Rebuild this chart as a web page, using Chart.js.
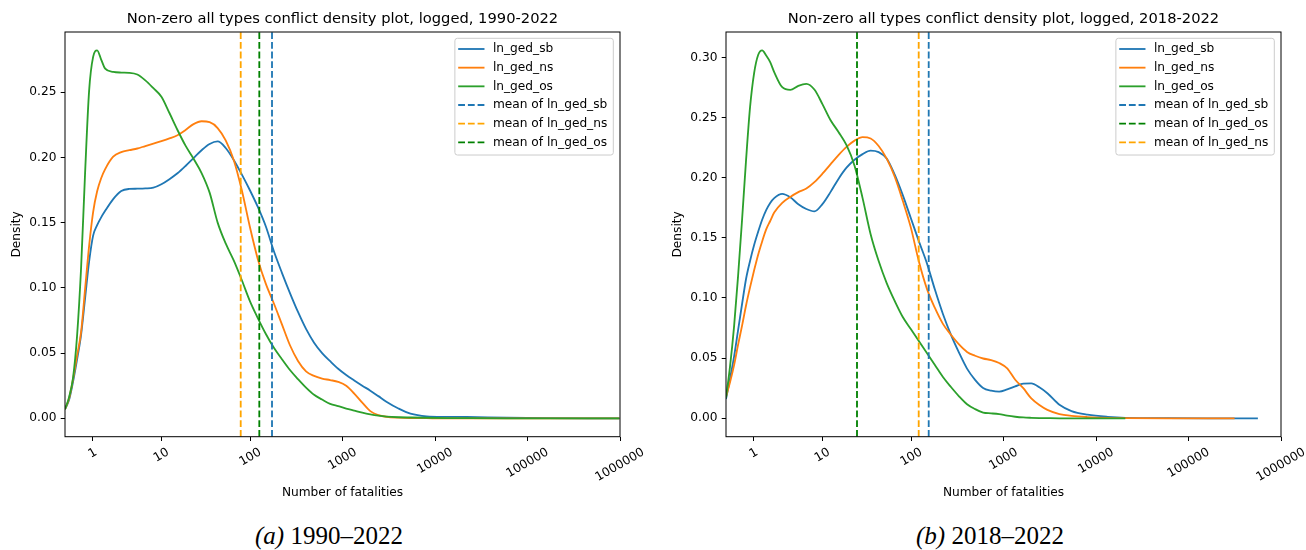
<!DOCTYPE html>
<html>
<head>
<meta charset="utf-8">
<script src="https://cdn.jsdelivr.net/npm/chart.js@4.4.1/dist/chart.umd.min.js"></script>
<style>
  html, body { margin: 0; padding: 0; background: #fff; }
  #wrap { position: relative; width: 1306px; height: 550px; overflow: hidden; background: #fff; }
  canvas { position: absolute; top: 0; }
  .cap { position: absolute; top: 523px; width: 400px; text-align: center; font-family: "Liberation Serif", serif; font-size: 25px; line-height: 25px; color: #000; }
</style>
</head>
<body>
<div id="wrap">
  <canvas id="left" width="645" height="515" style="left:0"></canvas>
  <canvas id="right" width="645" height="515" style="left:661px"></canvas>
  <div class="cap" style="left:129px"><i>(a)</i> 1990–2022</div>
  <div class="cap" style="left:790px"><i>(b)</i> 2018–2022</div>
</div>
<script>
// x values are ln(fatalities + 1), as in the original plots
const tickLabels = ['1', '10', '100', '1000', '10000', '100000', '1000000'];
const yTicksLeft = [0, 0.05, 0.10, 0.15, 0.20, 0.25];
const yTicksRight = [0, 0.05, 0.10, 0.15, 0.20, 0.25, 0.30];
const yLimLeft = [-0.0141, 0.2961];
const yLimRight = [-0.0153, 0.3211];

// 1990-2022
const gridLeft = [0, 0.1, 0.2, 0.3, 0.4, 0.5, 0.6, 0.7, 0.8, 0.9, 1.0, 1.2, 1.4, 1.6, 1.8, 2.0, 2.2, 2.4, 2.6, 2.8,
    3.0, 3.2, 3.4, 3.6, 3.8, 4.0, 4.2, 4.4, 4.6, 4.8, 5.0, 5.2, 5.4, 5.6, 5.8, 6.0, 6.2, 6.4, 6.6, 6.8,
    7.0, 7.2, 7.4, 7.6, 7.8, 8.0, 8.3, 8.6, 9.0, 9.5, 10, 11, 12, 13, 13.8];
const sbLeft = [0.007, 0.014, 0.028, 0.045, 0.064, 0.092, 0.120, 0.140, 0.148, 0.154,
    0.159, 0.168, 0.1742, 0.1758, 0.1760, 0.1762, 0.1768, 0.1794, 0.1833, 0.1878,
    0.1934, 0.1995, 0.2055, 0.2103, 0.2122, 0.2072, 0.1980, 0.1870, 0.1750, 0.1620,
    0.1470, 0.1280, 0.1115, 0.0960, 0.0815, 0.0685, 0.0580, 0.0500, 0.0438, 0.0380,
    0.0332, 0.0290, 0.0250, 0.0212, 0.0170, 0.0127, 0.0075, 0.0035, 0.0015, 0.0011,
    0.0010, 0.0004, 0.0001, 0, 0];
const nsLeft = [0.007, 0.015, 0.030, 0.048, 0.066, 0.099, 0.132, 0.158, 0.174, 0.184,
    0.191, 0.2005, 0.2040, 0.2055, 0.2068, 0.2087, 0.2105, 0.2124, 0.2145, 0.2170,
    0.2210, 0.2255, 0.2277, 0.2270, 0.2225, 0.2130, 0.1980, 0.1750, 0.1470, 0.1220,
    0.1030, 0.0880, 0.0720, 0.0560, 0.0440, 0.0360, 0.0325, 0.0305, 0.0293, 0.0279,
    0.0250, 0.0190, 0.0120, 0.0055, 0.0025, 0.0012, 0.0005, 0.0002, 0.0001, 0,
    0, 0, 0, 0, 0];
const osLeft = [0.007, 0.016, 0.031, 0.063, 0.115, 0.188, 0.251, 0.277, 0.282, 0.275,
    0.268, 0.2655, 0.2650, 0.2648, 0.2635, 0.2590, 0.2530, 0.2465, 0.2340, 0.2210,
    0.2090, 0.1990, 0.1880, 0.1730, 0.1500, 0.1340, 0.1210, 0.1060, 0.0900, 0.0768,
    0.0646, 0.0540, 0.0453, 0.0370, 0.0300, 0.0235, 0.0180, 0.0144, 0.0111, 0.0093,
    0.0075, 0.0059, 0.0043, 0.0030, 0.0020, 0.0013, 0.0008, 0.0006, 0.0004, 0.0002,
    0.0001, 0, 0, 0, 0];
const meanLeft = [5.153, 4.374, 4.837]; // sb, ns, os

// 2018-2022
const gridRight = [0, 0.1, 0.2, 0.3, 0.4, 0.5, 0.6, 0.7, 0.8, 0.9, 1.0, 1.1, 1.2, 1.4, 1.6, 1.8, 2.0, 2.2, 2.4, 2.6,
    2.8, 3.0, 3.2, 3.4, 3.6, 3.8, 4.0, 4.2, 4.4, 4.6, 4.8, 5.0, 5.2, 5.4, 5.6, 5.8, 6.0, 6.2, 6.4, 6.6,
    6.8, 7.0, 7.2, 7.4, 7.6, 7.8, 8.0, 8.3, 8.6, 9.0, 9.5, 9.94, 11, 12, 12.66, 13, 13.24];
const sbRight = [0.016, 0.033, 0.051, 0.073, 0.095, 0.116, 0.131, 0.144, 0.155, 0.165,
    0.173, 0.179, 0.183, 0.1865, 0.1837, 0.1780, 0.1740, 0.1720, 0.1780, 0.1880,
    0.1990, 0.2083, 0.2149, 0.2196, 0.2225, 0.2213, 0.2160, 0.2025, 0.1855, 0.1665,
    0.1473, 0.1290, 0.1070, 0.0867, 0.0693, 0.0546, 0.0413, 0.0320, 0.0252, 0.0230,
    0.0222, 0.0240, 0.0265, 0.0288, 0.0290, 0.0258, 0.0208, 0.0112, 0.0060, 0.0030,
    0.0012, 0.0004, 0.0001, 0, 0, 0, 0];
const nsRight = [0.018, 0.030, 0.044, 0.061, 0.077, 0.094, 0.109, 0.123, 0.136, 0.147,
    0.157, 0.164, 0.171, 0.179, 0.184, 0.188, 0.191, 0.1963, 0.2033, 0.2111,
    0.2188, 0.2256, 0.2308, 0.2337, 0.2326, 0.2263, 0.2158, 0.2008, 0.1808, 0.1587,
    0.1306, 0.1078, 0.0917, 0.0785, 0.0694, 0.0614, 0.0552, 0.0520, 0.0497, 0.0484,
    0.0460, 0.0415, 0.0320, 0.0250, 0.0165, 0.0110, 0.0070, 0.0035, 0.0020, 0.0010,
    0.0003, 0.0001, 0, 0, 0];
const osRight = [0.017, 0.043, 0.076, 0.118, 0.165, 0.215, 0.259, 0.287, 0.302, 0.3058,
    0.3016, 0.2961, 0.2878, 0.2752, 0.2730, 0.2764, 0.2780, 0.2733, 0.2612, 0.2480,
    0.2380, 0.2270, 0.2100, 0.1830, 0.1530, 0.1307, 0.1124, 0.0975, 0.0842, 0.0742,
    0.0642, 0.0543, 0.0443, 0.0343, 0.0260, 0.0183, 0.0117, 0.0076, 0.0047, 0.0041,
    0.0034, 0.0022, 0.0013, 0.0007, 0.0004, 0.0002, 0.0001, 0, 0, 0,
    0, 0];
const meanRight = [5.046, 3.261, 4.797]; // sb, os, ns

const BLUE = '#1f77b4', ORANGE = '#ff7f0e', GREEN = '#2ca02c';
const FONT = 'DejaVu Sans';
const LW = 1.83;
const DASH = [6.8, 2.9];

Chart.defaults.font.family = FONT;
Chart.defaults.color = '#000';

function curve(label, grid, ys, color) {
    return {
        label: label,
        data: ys.map((y, i) => ({x: grid[i], y: y})),
        borderColor: color,
        borderWidth: LW,
        pointRadius: 0,
        fill: false,
        cubicInterpolationMode: 'monotone'
    };
}

function meanLine(label, x, ylim, color) {
    return {
        label: label,
        data: [{x: x, y: ylim[0]}, {x: x, y: ylim[1]}],
        borderColor: color,
        borderWidth: LW,
        borderDash: DASH,
        pointRadius: 0,
        fill: false,
        tension: 0
    };
}

// frame, centred rotated x labels and a matplotlib-like legend
const decor = {
    id: 'decor',
    afterDatasetsDraw(chart) {
        const ctx = chart.ctx;
        const a = chart.chartArea;
        ctx.save();
        ctx.strokeStyle = '#000';
        ctx.lineWidth = 1;
        ctx.strokeRect(a.left, a.top, a.right - a.left, a.bottom - a.top);

        const xs = chart.scales.x;
        const ang = Math.PI / 6;
        ctx.font = '12.2px ' + FONT;
        ctx.fillStyle = '#000';
        ctx.textAlign = 'center';
        ctx.textBaseline = 'middle';
        xs.ticks.forEach((t, i) => {
            let lab = tickLabels[i];
            let w = ctx.measureText(lab).width;
            let hb = (w * Math.sin(ang) + 14.2 * Math.cos(ang)) / 2;
            ctx.save();
            ctx.translate(xs.getPixelForValue(t.value), a.bottom + 8.6 + hb);
            ctx.rotate(-ang);
            ctx.fillText(lab, 0, 0);
            ctx.restore();
        });

        const items = chart.data.datasets;
        const tw = Math.max(...items.map(d => ctx.measureText(d.label).width));
        const w = 38 + tw + 6;
        const h = items.length * 18.67 + 4.7;
        const x0 = a.right - 6.7 - w;
        const y0 = a.top + 6.3;
        ctx.beginPath();
        ctx.roundRect(x0, y0, w, h, 2.5);
        ctx.fillStyle = 'rgba(255,255,255,0.8)';
        ctx.fill();
        ctx.strokeStyle = '#cccccc';
        ctx.lineWidth = 1;
        ctx.stroke();
        items.forEach((d, i) => {
            let cy = y0 + 10.7 + i * 18.67;
            ctx.beginPath();
            ctx.setLineDash(d.borderDash || []);
            ctx.strokeStyle = d.borderColor;
            ctx.lineWidth = LW;
            ctx.moveTo(x0 + 3.3, cy);
            ctx.lineTo(x0 + 29.6, cy);
            ctx.stroke();
            ctx.setLineDash([]);
            ctx.fillStyle = '#000';
            ctx.textAlign = 'left';
            ctx.fillText(d.label, x0 + 38, cy);
        });
        ctx.restore();
    }
};

function makeChart(id, title, datasets, ylim, yTicks) {
    datasets.forEach((d, i) => { d.order = datasets.length - i; });
    let tickGrid = {display: true, drawOnChartArea: false, drawTicks: true, tickLength: 4.3, color: '#000', lineWidth: 1};
    return new Chart(document.getElementById(id), {
        type: 'line',
        data: {datasets: datasets},
        plugins: [decor],
        options: {
            responsive: false,
            animation: false,
            events: [],
            devicePixelRatio: 1,
            layout: {padding: {left: 0, right: 25, top: 0, bottom: 0}},
            plugins: {
                legend: {display: false},
                tooltip: {enabled: false},
                title: {
                    display: true,
                    text: title,
                    fullSize: false,
                    color: '#000',
                    font: {family: FONT, size: 14.7, weight: 'normal', lineHeight: 1.2},
                    padding: {top: 10.4, bottom: 3.96}
                }
            },
            scales: {
                x: {
                    type: 'linear',
                    min: 0,
                    max: Math.log1p(1e6),
                    afterBuildTicks: s => { s.ticks = tickLabels.map(l => ({value: Math.log1p(Number(l))})); },
                    afterFit: s => { s.height = 78.3; },
                    ticks: {display: false},
                    grid: tickGrid,
                    border: {display: false},
                    title: {
                        display: true,
                        text: 'Number of fatalities',
                        color: '#000',
                        font: {family: FONT, size: 12.2, lineHeight: 1.2},
                        padding: {top: 0, bottom: 14.7}
                    }
                },
                y: {
                    type: 'linear',
                    min: ylim[0],
                    max: ylim[1],
                    afterBuildTicks: s => { s.ticks = yTicks.map(v => ({value: v})); },
                    afterFit: s => { s.width = 65; },
                    ticks: {color: '#000', font: {family: FONT, size: 12.2}, padding: 4.3, callback: v => v.toFixed(2)},
                    grid: tickGrid,
                    border: {display: false},
                    title: {
                        display: true,
                        text: 'Density',
                        color: '#000',
                        font: {family: FONT, size: 12.2, lineHeight: 1.2},
                        padding: {top: 9.4, bottom: 0}
                    }
                }
            }
        }
    });
}

makeChart('left', 'Non-zero all types conflict density plot, logged, 1990-2022', [
    curve('ln_ged_sb', gridLeft, sbLeft, BLUE),
    curve('ln_ged_ns', gridLeft, nsLeft, ORANGE),
    curve('ln_ged_os', gridLeft, osLeft, GREEN),
    meanLine('mean of ln_ged_sb', meanLeft[0], yLimLeft, BLUE),
    meanLine('mean of ln_ged_ns', meanLeft[1], yLimLeft, 'orange'),
    meanLine('mean of ln_ged_os', meanLeft[2], yLimLeft, 'green')
], yLimLeft, yTicksLeft);

makeChart('right', 'Non-zero all types conflict density plot, logged, 2018-2022', [
    curve('ln_ged_sb', gridRight, sbRight, BLUE),
    curve('ln_ged_ns', gridRight, nsRight, ORANGE),
    curve('ln_ged_os', gridRight, osRight, GREEN),
    meanLine('mean of ln_ged_sb', meanRight[0], yLimRight, BLUE),
    meanLine('mean of ln_ged_os', meanRight[1], yLimRight, 'green'),
    meanLine('mean of ln_ged_ns', meanRight[2], yLimRight, 'orange')
], yLimRight, yTicksRight);
</script>
</body>
</html>
